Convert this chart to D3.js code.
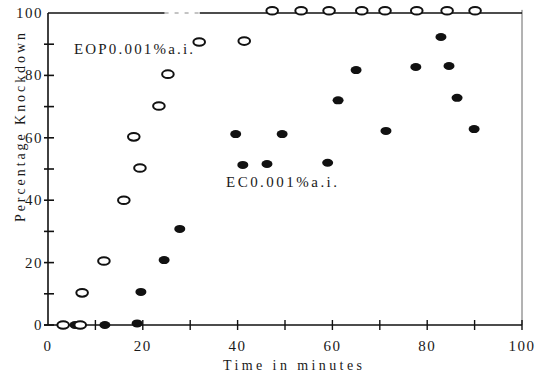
<!DOCTYPE html>
<html>
<head>
<meta charset="utf-8">
<script src="https://cdn.jsdelivr.net/npm/d3@7"></script>
<style>
  html, body { margin: 0; padding: 0; background: #fff; }
  svg { display: block; }
  text { font-family: "Liberation Serif", "DejaVu Serif", serif; fill: #1a1a1a; }
</style>
</head>
<body>
<svg id="chart" width="535" height="379"></svg>
<script>
// Knockdown (%) over time for the two treatments
const eopTime = [3.2, 6.8, 7.2, 11.8, 16.0, 18.1, 19.4, 23.4, 25.3, 31.9, 41.4,
                 47.3, 53.4, 59.3, 66.2, 71.1, 77.8, 84.2, 90.1];
const eopKnock = [0, 0, 10.3, 20.5, 40, 60.3, 50.3, 70.2, 80.4, 90.7, 91,
                  100.7, 100.7, 100.7, 100.7, 100.7, 100.7, 100.7, 100.7];

const ecTime = [5.7, 12.0, 18.8, 19.6, 24.5, 27.8, 39.6, 41.1, 46.2, 49.4, 59.0,
                61.2, 65.0, 71.3, 77.6, 82.9, 84.6, 86.3, 89.9];
const ecKnock = [0, 0, 0.5, 10.6, 20.8, 30.8, 61.2, 51.3, 51.6, 61.2, 52,
                 72, 81.7, 62.2, 82.7, 92.3, 83, 72.8, 62.8];

const xTickLabels = [0, 20, 40, 60, 80, 100];
const yTickLabels = [0, 20, 40, 60, 80, 100];
const minorTicks = d3.range(0, 101, 10);

const svg = d3.select("#chart");
const x = d3.scaleLinear().domain([0, 100]).range([48, 522]);
const y = d3.scaleLinear().domain([0, 100]).range([325, 13]);

const ink = "#111";

// Frame: right edge is a thin faint line
svg.append("line")
  .attr("x1", x(100)).attr("x2", x(100))
  .attr("y1", y(101)).attr("y2", y(0))
  .attr("stroke", "#666").attr("stroke-width", 1);

// Top line at 100 %, with a faint broken stretch
const topSegs = [
  {a: 0, b: 24.6, dash: null, c: ink, w: 1.6},
  {a: 24.6, b: 32, dash: "4,6", c: "#888", w: 1},
  {a: 32, b: 100, dash: null, c: ink, w: 1.4}
];
topSegs.forEach(s => {
  svg.append("line")
    .attr("x1", x(s.a)).attr("x2", x(s.b))
    .attr("y1", y(100)).attr("y2", y(100))
    .attr("stroke", s.c).attr("stroke-width", s.w)
    .attr("stroke-dasharray", s.dash);
});

// Axes lines
svg.append("line")
  .attr("x1", x(0)).attr("x2", x(0)).attr("y1", y(0)).attr("y2", y(100))
  .attr("stroke", ink).attr("stroke-width", 1.6);
svg.append("line")
  .attr("x1", x(0) - 4).attr("x2", x(100)).attr("y1", y(0)).attr("y2", y(0))
  .attr("stroke", ink).attr("stroke-width", 1.6);

// Tick marks crossing the axes
svg.append("g").selectAll("line").data(minorTicks.filter(d => d < 100)).join("line")
  .attr("x1", x(0) - 4).attr("x2", x(0) + 6)
  .attr("y1", d => y(d)).attr("y2", d => y(d))
  .attr("stroke", ink).attr("stroke-width", 1.6);
svg.append("g").selectAll("line").data(minorTicks.filter(d => d > 0)).join("line")
  .attr("x1", d => x(d)).attr("x2", d => x(d))
  .attr("y1", y(0) - 5).attr("y2", y(0) + 5)
  .attr("stroke", ink).attr("stroke-width", 1.4);

// Tick labels
svg.append("g").selectAll("text").data(yTickLabels).join("text")
  .attr("x", 43).attr("y", d => y(d) + 5)
  .attr("text-anchor", "end")
  .attr("font-size", 15).attr("letter-spacing", 1.5)
  .text(d => d);
svg.append("g").selectAll("text").data(xTickLabels).join("text")
  .attr("x", d => x(d)).attr("y", 351)
  .attr("text-anchor", "middle")
  .attr("font-size", 15).attr("letter-spacing", 1.5)
  .text(d => d);

// Axis titles
svg.append("text")
  .attr("x", 223).attr("y", 370)
  .attr("font-size", 14)
  .attr("textLength", 139).attr("lengthAdjust", "spacing")
  .text("Time in minutes");
svg.append("text")
  .attr("transform", "translate(25,222) rotate(-90)")
  .attr("font-size", 14)
  .attr("textLength", 189).attr("lengthAdjust", "spacing")
  .text("Percentage Knockdown");

// Series labels
svg.append("text")
  .attr("x", 74).attr("y", 54)
  .attr("font-size", 15)
  .attr("textLength", 119).attr("lengthAdjust", "spacing")
  .text("EOP0.001%a.i.");
svg.append("text")
  .attr("x", 226).attr("y", 187)
  .attr("font-size", 15)
  .attr("textLength", 111).attr("lengthAdjust", "spacing")
  .text("EC0.001%a.i.");

// EC: filled markers
svg.append("g").selectAll("ellipse").data(ecTime.map((t, i) => [t, ecKnock[i]])).join("ellipse")
  .attr("cx", d => x(d[0])).attr("cy", d => y(d[1]))
  .attr("rx", 5.5).attr("ry", 4)
  .attr("fill", ink);

// EOP: open markers
svg.append("g").selectAll("ellipse").data(eopTime.map((t, i) => [t, eopKnock[i]])).join("ellipse")
  .attr("cx", d => x(d[0])).attr("cy", d => y(d[1]))
  .attr("rx", 5.8).attr("ry", 3.8)
  .attr("fill", "#fff")
  .attr("stroke", ink).attr("stroke-width", 2);
</script>
</body>
</html>
